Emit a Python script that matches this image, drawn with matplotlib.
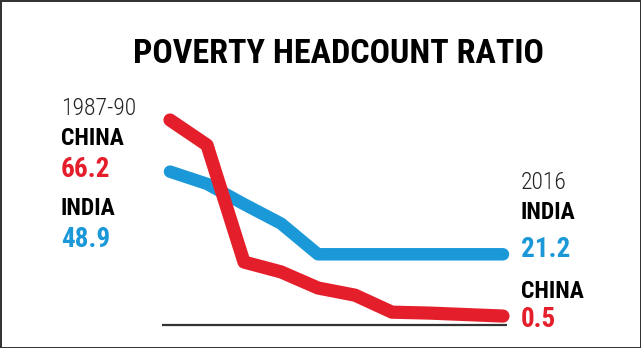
import matplotlib.pyplot as plt

# poverty headcount ratio (first point 1987-90, last 2016)
steps = list(range(10))
china = [66.2, 57.8, 18.6, 15.3, 9.9, 7.5, 1.8, 1.5, 1.0, 0.5]
india = [48.9, 44.8, 38.0, 31.5, 21.2, 21.2, 21.2, 21.2, 21.2, 21.2]
start_label = "1987-90"
end_label = "2016"

red = '#e41f2b'
blue = '#1b98d8'
W, H = 641, 348

fonts = ['Roboto Condensed', 'Barlow Condensed', 'Liberation Sans', 'DejaVu Sans']
plt.rcParams['font.family'] = fonts

fig = plt.figure(figsize=(W / 100, H / 100), dpi=100, edgecolor='#333333', linewidth=2)
ax = fig.add_axes([151.5 / W, 21.5 / H, 370 / W, 223.8 / H])
ax.set_xlim(-0.5, 9.5)
ax.set_ylim(-3, 72)
ax.axis('off')

ax.plot(steps, india, color=blue, lw=9, solid_capstyle='round', solid_joinstyle='round')
ax.plot(steps, china, color=red, lw=9.5, solid_capstyle='round', solid_joinstyle='round')
ax.hlines(-2.6, -0.22, 9.1, color='#333333', lw=1.6)


def txt(x, y, s, **kw):
    # x, y in pixels from top-left, y = baseline
    fig.text(x / W, 1 - y / H, s, va='baseline', ha='left', **kw)


fig.text(338 / W, 1 - 63 / H, "POVERTY HEADCOUNT RATIO", ha='center', va='baseline',
         fontsize=24.5, fontweight='heavy', color='black')

txt(61, 115, start_label, fontsize=17, fontweight='light', color='#222222')
txt(61, 145, "CHINA", fontsize=17, fontweight='bold', color='black')
txt(61, 177, f"{china[0]}", fontsize=19.5, fontweight='heavy', color=red)
txt(61, 215, "INDIA", fontsize=17, fontweight='bold', color='black')
txt(61, 247, f"{india[0]}", fontsize=19.5, fontweight='heavy', color=blue)

txt(521, 189, end_label, fontsize=17, fontweight='light', color='#222222')
txt(521, 219, "INDIA", fontsize=17, fontweight='bold', color='black')
txt(521, 257, f"{india[-1]}", fontsize=19.5, fontweight='heavy', color=blue)
txt(521, 298, "CHINA", fontsize=17, fontweight='bold', color='black')
txt(521, 327, f"{china[-1]}", fontsize=19.5, fontweight='heavy', color=red)

fig.savefig('out.png', dpi=100)
